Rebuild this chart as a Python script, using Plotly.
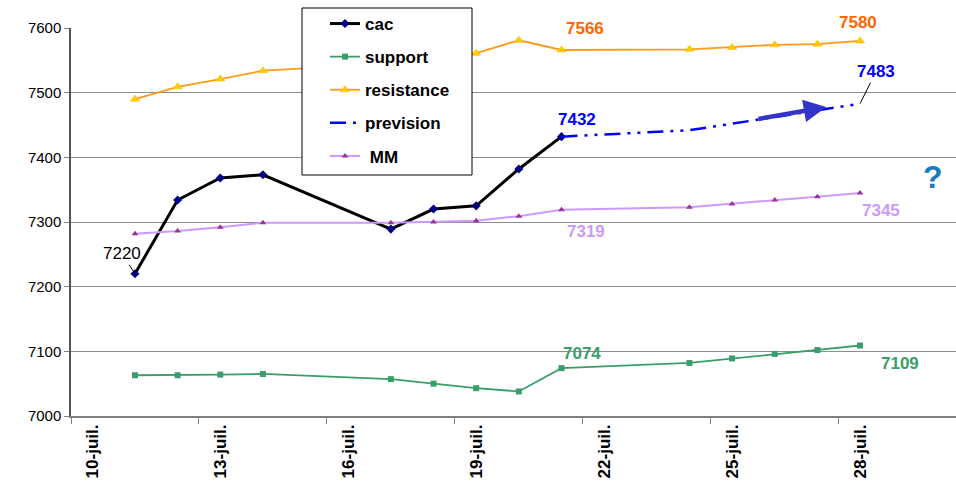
import plotly.graph_objects as go

# ---- data ----
days = ["2023-07-11", "2023-07-12", "2023-07-13", "2023-07-14", "2023-07-17",
        "2023-07-18", "2023-07-19", "2023-07-20", "2023-07-21"]
days_ext = days + ["2023-07-24", "2023-07-25", "2023-07-26", "2023-07-27", "2023-07-28"]

cac = [7220, 7334, 7368, 7373, 7289, 7320, 7325, 7382, 7432]
support = [7063, 7063, 7064, 7065, 7057, 7050, 7043, 7038, 7074, 7082, 7089, 7096, 7102, 7109]
resistance = [7490, 7509, 7521, 7534, 7545, 7553, 7561, 7581, 7566, 7567, 7570, 7574, 7575, 7580]
prev_days = ["2023-07-21", "2023-07-24", "2023-07-25", "2023-07-26", "2023-07-27", "2023-07-28"]
prevision = [7432, 7442, 7452, 7462, 7473, 7483]
mm = [7282, 7286, 7292, 7299, 7299, 7300, 7302, 7309, 7319, 7323, 7328, 7334, 7339, 7345]

tick_dates = ["2023-07-10", "2023-07-13", "2023-07-16", "2023-07-19", "2023-07-22", "2023-07-25", "2023-07-28"]
tick_text = ["10-juil.", "13-juil.", "16-juil.", "19-juil.", "22-juil.", "25-juil.", "28-juil."]
minor_ticks = ["2023-07-09 12:00", "2023-07-12 12:00", "2023-07-15 12:00", "2023-07-18 12:00",
               "2023-07-21 12:00", "2023-07-24 12:00", "2023-07-27 12:00"]

FONT = "Liberation Sans, Arial, sans-serif"
W, H = 956, 485
ML, MR, MT, MB = 71, 0, 28, 69
PW, PH = W - ML - MR, H - MT - MB

def px(xp):
    return (xp - ML) / PW

def py(yp):
    return (H - MB - yp) / PH

fig = go.Figure()
fig.add_trace(go.Scatter(x=days, y=cac, name="cac", mode="lines+markers", legendgroup="a",
                         line=dict(color="black", width=3),
                         marker=dict(symbol="diamond", size=7, color="#000080")))
fig.add_trace(go.Scatter(x=days_ext, y=support, name="support", mode="lines+markers", legendgroup="b",
                         line=dict(color="#3a9e6a", width=1.8),
                         marker=dict(symbol="square", size=6, color="#3a9e6a")))
fig.add_trace(go.Scatter(x=days_ext, y=resistance, name="resistance", mode="lines+markers", legendgroup="c",
                         line=dict(color="#ff9a1a", width=1.8),
                         marker=dict(symbol="triangle-up", size=8, color="#ffcc00",
                                     line=dict(color="#ffb000", width=0.5))))
fig.add_trace(go.Scatter(x=prev_days, y=prevision, name="prevision", mode="lines", legendgroup="d",
                         line=dict(color="#0000ff", width=2.5, dash="16px,7px,3px,7px,3px,7px")))
fig.add_trace(go.Scatter(x=days_ext, y=mm, name=" MM", mode="lines+markers", legendgroup="e",
                         line=dict(color="#cc99ff", width=2),
                         marker=dict(symbol="triangle-up", size=6, color="#993399")))

def lab(xv, yv, text, color, dx, dy, bold=True, size=17):
    fig.add_annotation(x=xv, y=yv, text=("<b>%s</b>" % text) if bold else text,
                       showarrow=False, xshift=dx, yshift=dy,
                       font=dict(family=FONT, size=size, color=color))

lab(days_ext[8], resistance[8], "7566", "#ff6600", 24, 21)
lab(days_ext[13], resistance[13], "7580", "#ff6600", -2, 18)
lab(days[8], cac[8], "7432", "#0000ff", 16, 17)
lab(days_ext[8], mm[8], "7319", "#cc99ff", 25, -22)
lab(days_ext[13], mm[13], "7345", "#cc99ff", 21, -18)
lab(days_ext[8], support[8], "7074", "#3a9e6a", 21, 15)
lab(days_ext[13], support[13], "7109", "#3a9e6a", 40, -18)

# labels with leader lines
fig.add_annotation(x=prev_days[-1], y=prevision[-1], text="<b>7483</b>", showarrow=True,
                   arrowhead=0, arrowwidth=1, arrowcolor="black", ax=16, ay=-32,
                   font=dict(family=FONT, size=17, color="#0000ff"))
fig.add_annotation(x=days[0], y=cac[0], text="7220", showarrow=True,
                   arrowhead=0, arrowwidth=1, arrowcolor="black", ax=-13, ay=-20,
                   font=dict(family=FONT, size=17, color="black"))

# thick arrow for the forecast
fig.add_annotation(x="2023-07-27 05:00", y=7478, ax="2023-07-25 14:00", ay=7459,
                   xref="x", yref="y", axref="x", ayref="y", text="", showarrow=True,
                   arrowhead=2, arrowsize=1, arrowwidth=4.5, arrowcolor="#3333cc")

# question mark
fig.add_annotation(x=px(933), y=py(177), xref="paper", yref="paper", text="<b>?</b>", showarrow=False,
                   xanchor="center", yanchor="middle",
                   font=dict(family=FONT, size=32, color="#1a7bbf"))

# legend frame
fig.add_shape(type="rect", xref="paper", yref="paper", layer="above",
              x0=px(302), x1=px(472), y0=py(175), y1=py(8),
              line=dict(color="black", width=1), fillcolor="white")

fig.update_layout(
    width=W, height=H,
    margin=dict(l=ML, r=MR, t=MT, b=MB, autoexpand=False),
    paper_bgcolor="white", plot_bgcolor="white",
    font=dict(family=FONT, size=14, color="black"),
    showlegend=True,
    legend=dict(x=px(325), y=py(6), xanchor="left", yanchor="top",
                bgcolor="rgba(0,0,0,0)", borderwidth=0,
                font=dict(family=FONT, size=17, color="black", weight="bold"),
                tracegroupgap=8),
    xaxis=dict(range=["2023-07-09 12:00", "2023-07-30 06:00"],
               tickmode="array", tickvals=tick_dates, ticktext=tick_text,
               tickangle=-90, ticks="", showgrid=False,
               tickfont=dict(family=FONT, size=17, color="black", weight="bold"),
               showline=True, linecolor="#7f7f7f", linewidth=1.5,
               minor=dict(tickmode="array", tickvals=minor_ticks, ticks="outside",
                          ticklen=6, tickcolor="#7f7f7f", showgrid=False),
               zeroline=False),
    yaxis=dict(range=[7000, 7600], tickmode="linear", tick0=7000, dtick=100,
               showgrid=True, gridcolor="#8c8c8c", gridwidth=1,
               ticks="outside", ticklen=5, tickcolor="#7f7f7f",
               showline=True, linecolor="#555555", linewidth=1.5,
               tickfont=dict(family=FONT, size=15, color="black"),
               zeroline=False),
)

fig.write_html("out.html", config={"displayModeBar": False},
               post_script="document.body.style.margin='0';document.body.style.overflow='hidden';")
